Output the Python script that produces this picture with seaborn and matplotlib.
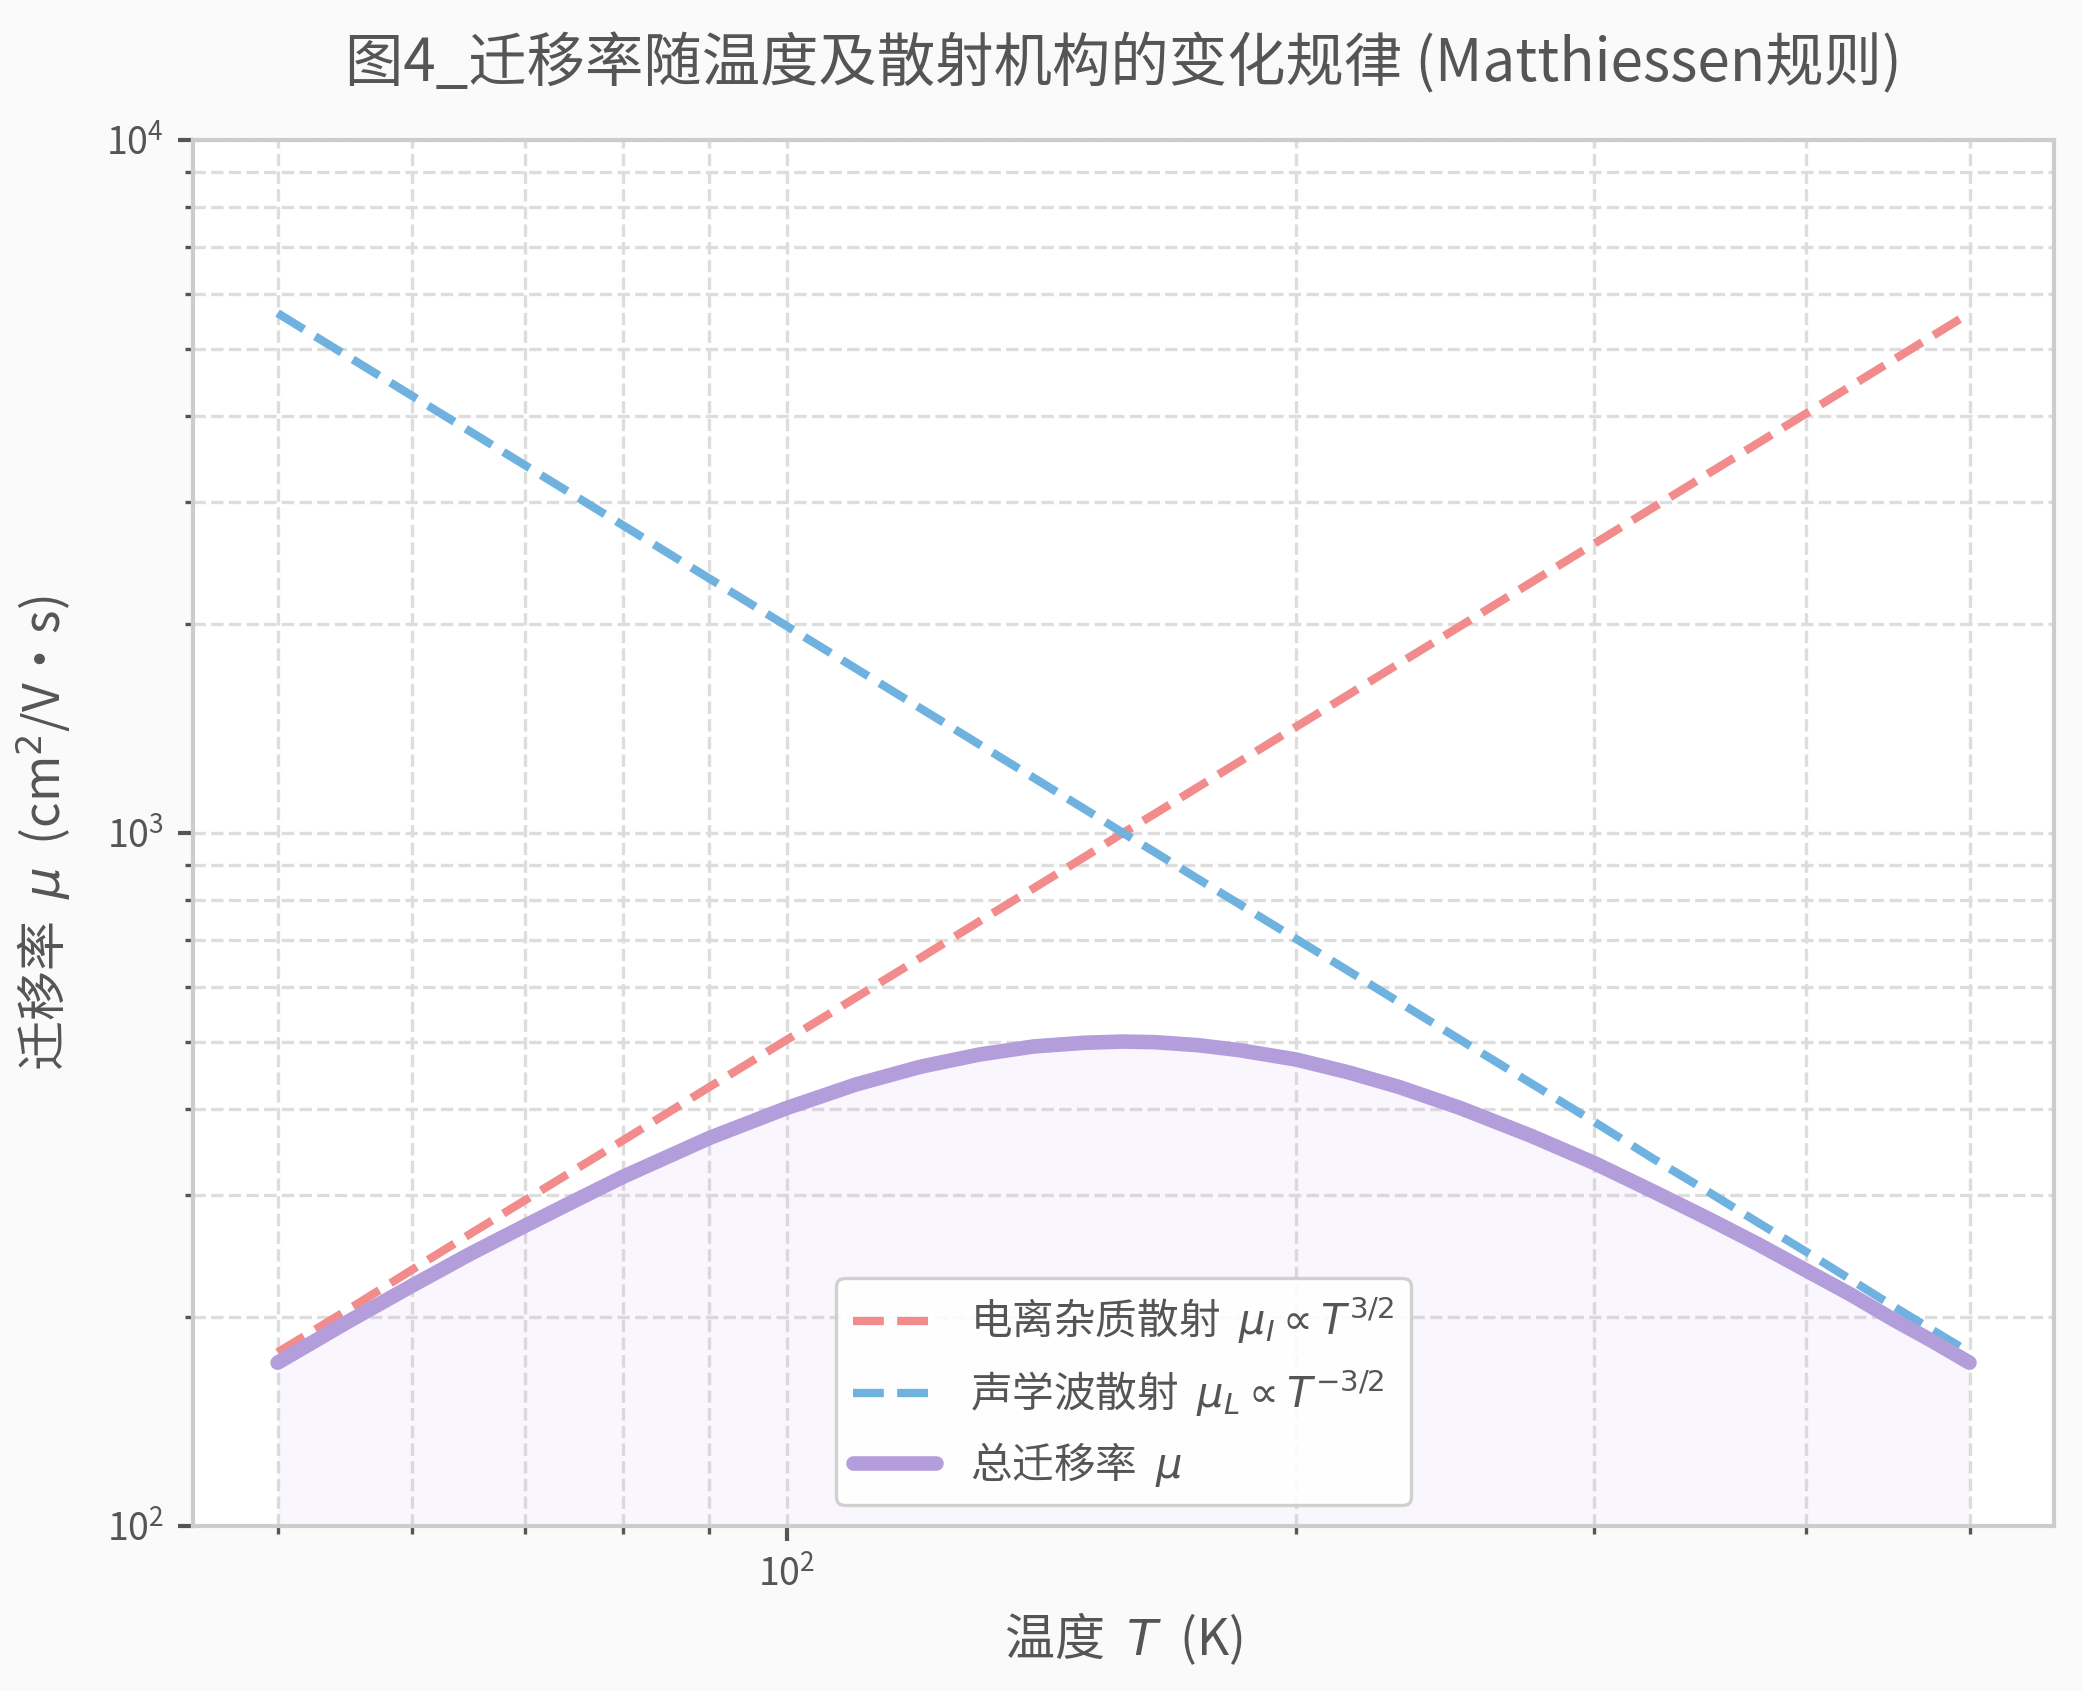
import numpy as np
import pandas as pd
import matplotlib
matplotlib.use('Agg')
import matplotlib.pyplot as plt
import seaborn as sns

# Temperature points (K) and mobilities (cm^2/V·s)
temps = [50, 55, 60, 65, 70, 75, 80, 90, 100, 110, 120, 130, 140, 150, 158, 165,
         175, 185, 200, 215, 230, 250, 275, 300, 325, 350, 375, 400, 425, 450, 475, 500]
mu_impurity = [178, 205, 234, 264, 295, 327, 360, 430, 503, 580, 661, 746, 833, 924, 1000, 1066,
               1165, 1266, 1423, 1586, 1755, 1988, 2294, 2614, 2947, 3294, 3653, 4024, 4407, 4802, 5207, 5624]
mu_lattice = [5624, 4873, 4277, 3794, 3394, 3061, 2779, 2328, 1988, 1723, 1512, 1341, 1200, 1082, 1000, 938,
              858, 790, 703, 631, 570, 503, 436, 383, 339, 304, 274, 249, 227, 208, 192, 178]
mu_total = [172, 197, 222, 247, 271, 295, 319, 363, 401, 434, 460, 479, 492, 498, 500, 499,
            494, 486, 471, 451, 430, 401, 366, 334, 304, 278, 255, 234, 216, 199, 185, 172]

labels = [r'电离杂质散射  $\mu_I \propto T^{3/2}$',
          r'声学波散射  $\mu_L \propto T^{-3/2}$',
          r'总迁移率  $\mu$']
colors = ['#F28B8B', '#6FB2E0', '#B39DDB']

df = pd.DataFrame({'T': temps, 'mu_I': mu_impurity, 'mu_L': mu_lattice, 'mu': mu_total})

sns.set_style('ticks')
plt.rcParams['font.family'] = ['Noto Sans CJK SC', 'DejaVu Sans']
plt.rcParams['axes.unicode_minus'] = False
plt.rcParams['text.color'] = '#555555'
plt.rcParams['axes.labelcolor'] = '#555555'
plt.rcParams['xtick.color'] = '#555555'
plt.rcParams['ytick.color'] = '#555555'

fig = plt.figure(figsize=(6.94, 5.637), dpi=300, facecolor='#FAFAFA')
ax = fig.add_axes([0.0927, 0.0976, 0.9866 - 0.0927, 0.9172 - 0.0976])
ax.set_facecolor('white')

# light fill under the total curve
ax.fill_between(df['T'], df['mu'], 100, color='#C9A8EE', alpha=0.1, linewidth=0, zorder=1)

sns.lineplot(data=df, x='T', y='mu_I', ax=ax, color=colors[0], linestyle='--',
             linewidth=2, label=labels[0], zorder=3)
sns.lineplot(data=df, x='T', y='mu_L', ax=ax, color=colors[1], linestyle='--',
             linewidth=2, label=labels[1], zorder=3)
sns.lineplot(data=df, x='T', y='mu', ax=ax, color=colors[2], linestyle='-',
             linewidth=3.5, label=labels[2], zorder=4)

ax.set_xscale('log')
ax.set_yscale('log')
ax.set_ylim(100, 10000)

ax.grid(True, which='both', linestyle='--', linewidth=0.8, color='#DDDDDD', zorder=0)
ax.set_axisbelow(True)

for sp in ax.spines.values():
    sp.set_color('#CCCCCC')
    sp.set_linewidth(1.0)
ax.tick_params(which='major', labelsize=9, length=3.5, width=1, color='#555555')
ax.tick_params(which='minor', length=2, width=0.8, color='#555555')

ax.set_title('图4_迁移率随温度及散射机构的变化规律 (Matthiessen规则)', fontsize=14,
             color='#555555', pad=14)
ax.set_xlabel('温度  $T$  (K)', fontsize=12, labelpad=4)
ax.set_ylabel('迁移率  $\\mu$  (cm$^2$/V·s)', fontsize=12, labelpad=8)

leg = ax.legend(loc='lower center', fontsize=10, frameon=True, fancybox=True,
                framealpha=0.9, edgecolor='#CCCCCC', facecolor='white')
leg.get_frame().set_linewidth(0.8)

fig.savefig('out.png', dpi=300, facecolor=fig.get_facecolor())
